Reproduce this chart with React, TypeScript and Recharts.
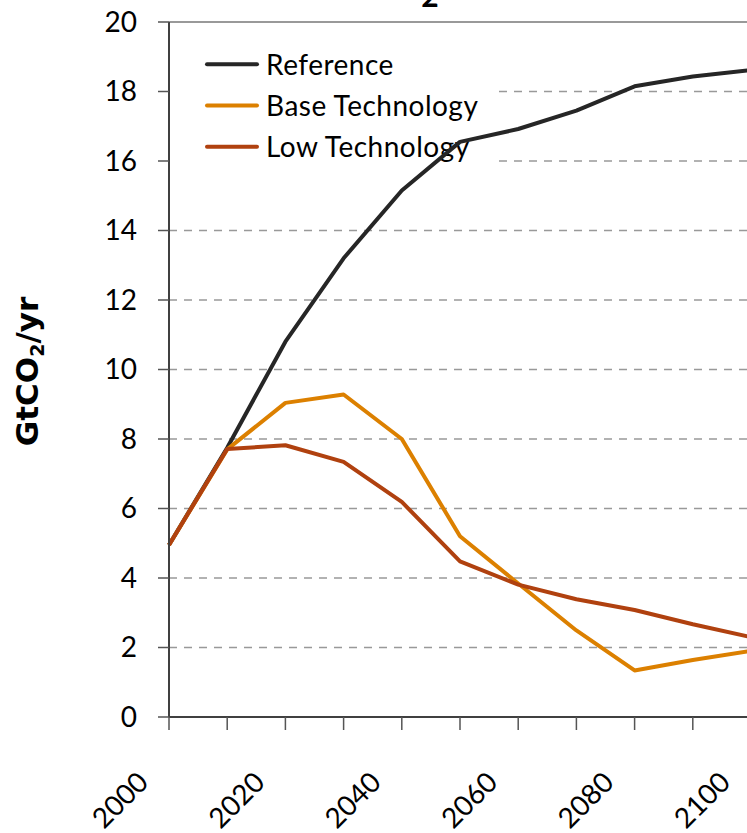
import React from 'react';
import {
  LineChart,
  Line,
  XAxis,
  YAxis,
  CartesianGrid,
  ReferenceArea,
  ReferenceLine
} from 'recharts';

// values, GtCO2/yr
const years = [2000, 2010, 2020, 2030, 2040, 2050, 2060, 2070, 2080, 2090, 2100];
const referenceSeries = [4.95, 7.75, 10.8, 13.2, 15.15, 16.55, 16.92, 17.45, 18.15, 18.43, 18.62];
const baseTechSeries = [4.95, 7.7, 9.04, 9.28, 8.0, 5.2, 3.84, 2.49, 1.34, 1.64, 1.9];
const lowTechSeries = [4.95, 7.71, 7.82, 7.34, 6.19, 4.48, 3.81, 3.39, 3.08, 2.67, 2.3];

const yTicks = [0, 2, 4, 6, 8, 10, 12, 14, 16, 18, 20];
const labelledYears = [2000, 2020, 2040, 2060, 2080, 2100];

const series = [
  { key: 'reference', name: 'Reference', color: '#262626' },
  { key: 'base', name: 'Base Technology', color: '#dc8000' },
  { key: 'low', name: 'Low Technology', color: '#b0410f' }
];

const data = years.map((year, i) => ({
  year,
  reference: referenceSeries[i],
  base: baseTechSeries[i],
  low: lowTechSeries[i]
}));

const FONT = 'Lato, "Open Sans", sans-serif';

// white legend panel, sits over the grid but under the lines
const LegendBox = (props: any) => {
  const { x, y, width, height } = props;
  return (
    <g>
      <rect x={x + 1} y={y} width={width} height={height} fill="#ffffff" />
      {series.map((s, i) => {
        const rowY = y + 21.5 + i * 41.2;
        return (
          <g key={s.key}>
            <line
              x1={x + 38}
              x2={x + 88}
              y1={rowY}
              y2={rowY}
              stroke={s.color}
              strokeWidth={4}
              strokeLinecap="round"
            />
            <text
              x={x + 97}
              y={rowY + 10.5}
              fontSize={28}
              letterSpacing={0.5}
              fontFamily={FONT}
              fill="#000"
            >
              {s.name}
            </text>
          </g>
        );
      })}
    </g>
  );
};

const YearTick = (props: any) => {
  const { x, y, payload } = props;
  if (!labelledYears.includes(payload.value)) return <g />;
  const ax = x - 19;
  const ay = y + 52;
  return (
    <text
      x={ax}
      y={ay}
      textAnchor="end"
      transform={`rotate(-45 ${ax} ${ay})`}
      fontSize={28}
      fontFamily={FONT}
      fill="#000"
    >
      {payload.value}
    </text>
  );
};

const YTitle = (props: any) => {
  const vb = props.viewBox || { x: 0, y: 22, width: 169, height: 695 };
  const cx = 38;
  const cy = vb.y + vb.height / 2 + 2;
  return (
    <text
      x={cx}
      y={cy}
      textAnchor="middle"
      transform={`rotate(-90 ${cx} ${cy})`}
      fontSize={31}
      fontWeight="bold"
      fontFamily='"DejaVu Sans", sans-serif'
      fill="#000"
    >
      <tspan>GtCO</tspan>
      <tspan fontSize={19} dy={6}>2</tspan>
      <tspan dy={-6}>/yr</tspan>
    </text>
  );
};

export default function App() {
  return (
    <div
      style={{
        position: 'fixed',
        left: 0,
        top: 0,
        width: 747,
        height: 833,
        overflow: 'hidden',
        background: '#fff',
        fontFamily: FONT
      }}
    >
      {/* only the subscript of the cut-off title shows */}
      <svg width={747} height={30} style={{ position: 'absolute', left: 0, top: 0 }}>
        <text x={430} y={7} textAnchor="middle" fontSize={30} fontWeight="bold" fontFamily={FONT} fill="#000">
          2
        </text>
      </svg>
      <LineChart
        width={800}
        height={833}
        data={data}
        margin={{ top: 22, right: 49, left: 0, bottom: 0 }}
      >
        <CartesianGrid
          horizontal={true}
          vertical={false}
          stroke="#999999"
          strokeWidth={1.5}
          strokeDasharray="8 7"
        />
        <ReferenceLine y={20} stroke="#999999" strokeWidth={2} />
        <XAxis
          dataKey="year"
          type="number"
          domain={[2000, 2100]}
          ticks={years}
          interval={0}
          height={116}
          tickSize={13}
          tickMargin={2}
          axisLine={{ stroke: '#404040', strokeWidth: 2 }}
          tickLine={{ stroke: '#555555', strokeWidth: 1.5 }}
          tick={<YearTick />}
        />
        <YAxis
          type="number"
          domain={[0, 20]}
          ticks={yTicks}
          interval={0}
          width={169}
          tickSize={11}
          tickMargin={21}
          axisLine={{ stroke: '#404040', strokeWidth: 2 }}
          tickLine={{ stroke: '#555555', strokeWidth: 1.5 }}
          tick={{ fontSize: 28, fontFamily: FONT, fill: '#000' }}
          label={<YTitle />}
        />
        <ReferenceArea
          x1={2000}
          x2={2056.4}
          y1={15.1}
          y2={19.4}
          shape={(p: any) => <LegendBox {...p} />}
        />
        {series.map((s) => (
          <Line
            key={s.key}
            type="linear"
            dataKey={s.key}
            name={s.name}
            stroke={s.color}
            strokeWidth={4}
            strokeLinejoin="round"
            dot={false}
            activeDot={false}
            isAnimationActive={false}
          />
        ))}
      </LineChart>
    </div>
  );
}
